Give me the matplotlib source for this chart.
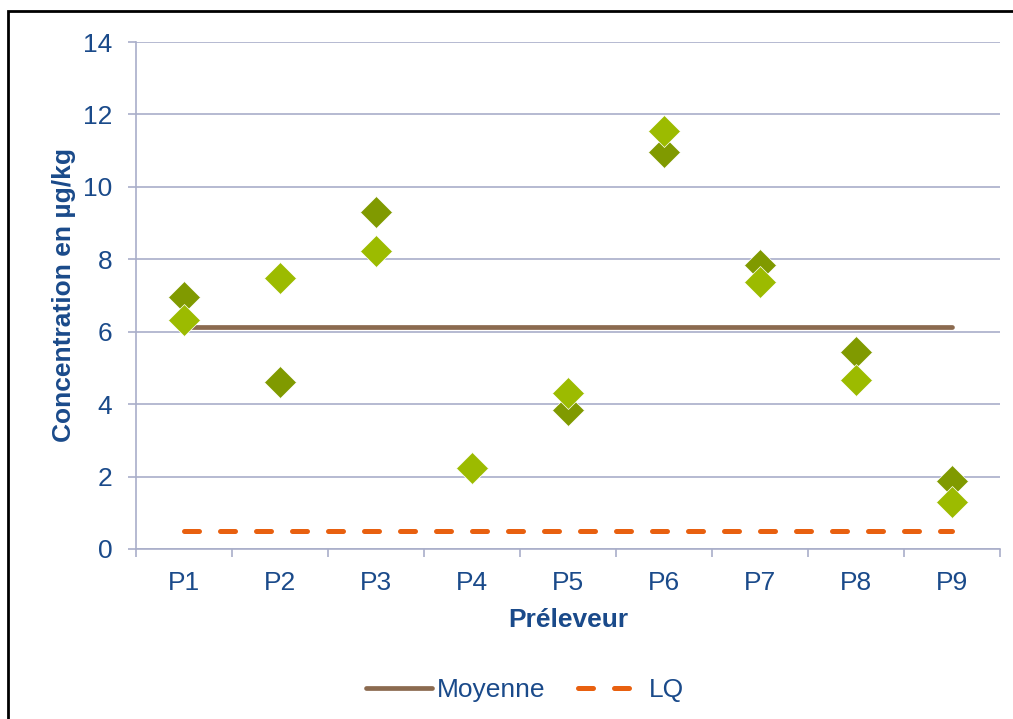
import numpy as np
import matplotlib.pyplot as plt
from matplotlib.patches import Rectangle

plt.rcParams['font.family'] = ['Liberation Sans', 'DejaVu Sans']

# donnees
preleveurs = ["P1", "P2", "P3", "P4", "P5", "P6", "P7", "P8", "P9"]
serie_fonce = [6.97, 4.6, 9.3, 2.25, 3.85, 10.95, 7.83, 5.44, 1.88]
serie_clair = [6.33, 7.48, 8.22, 2.25, 4.3, 11.55, 7.37, 4.67, 1.3]
moyenne = 6.13
lq = 0.5

bleu = "#1a4a8a"
grille = "#a9aec9"

fig = plt.figure(figsize=(10.13, 7.19), dpi=100)
ax = fig.add_axes([136/1013, 1-549/719, 864/1013, 507/719])

x = np.arange(len(preleveurs))
ax.plot(x, [moyenne]*len(x), color="#8b6a4f", lw=3.4, solid_capstyle="round", label="Moyenne", zorder=2)
ax.plot(x, [lq]*len(x), color="#e8600f", lw=3.6, ls=(0, (3.0, 4.2)), dash_capstyle="round", label="LQ", zorder=2)
ax.plot(x, serie_fonce, "D", color="#809a00", ms=16, mec="white", mew=0.5, ls="none", zorder=3)
ax.plot(x, serie_clair, "D", color="#9cbb00", ms=16, mec="white", mew=0.5, ls="none", zorder=3)

ax.set_xlim(-0.5, 8.5)
ax.set_ylim(0, 14)
ax.set_yticks(np.arange(0, 15, 2))
ax.set_xticks(x)
ax.set_xticklabels(preleveurs)
ax.set_xticks(np.arange(-0.5, 9, 1), minor=True)
ax.tick_params(axis="x", which="major", length=0, pad=16, labelsize=19, labelcolor=bleu)
ax.tick_params(axis="x", which="minor", length=6, color=grille, width=1.2)
ax.tick_params(axis="y", length=6, color=grille, width=1.2, labelsize=19, labelcolor=bleu, pad=11)
ax.grid(axis="y", color=grille, lw=1.2, zorder=0)
for s in ["top", "right"]:
    ax.spines[s].set_visible(False)
for s in ["left", "bottom"]:
    ax.spines[s].set_color(grille)
    ax.spines[s].set_linewidth(1.2)

ax.set_xlabel("Préleveur", fontsize=19, fontweight="bold", color=bleu, labelpad=9)
ax.set_ylabel("Concentration en µg/kg", fontsize=19, fontweight="bold", color=bleu, labelpad=5)

leg = fig.legend(loc="center", bbox_to_anchor=(525/1013, 1-690/719), ncol=2, frameon=False,
                 fontsize=19, handlelength=2.5, columnspacing=1.2, handletextpad=0.2)
for t in leg.get_texts():
    t.set_color(bleu)

fig.patches.append(Rectangle((8/1013, -0.01), 1.1, 1-11/719+0.01, transform=fig.transFigure,
                             fill=False, ec="black", lw=2))

fig.savefig("out.png", dpi=100)
